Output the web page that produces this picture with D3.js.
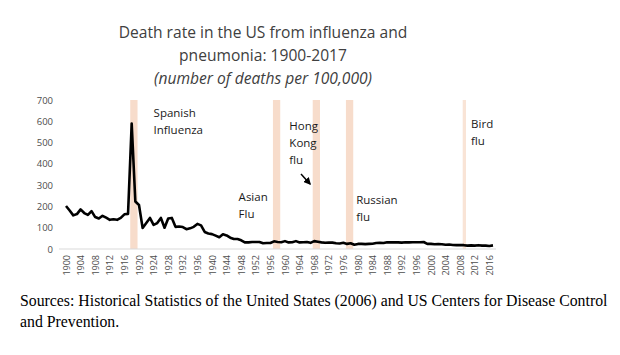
<!DOCTYPE html>
<html><head><meta charset="utf-8">
<script src="https://cdn.jsdelivr.net/npm/d3@7"></script>
<style>body{margin:0;background:#fff}svg{display:block}</style>
</head><body>
<svg id="c" width="620" height="355"></svg>
<script>
const years = d3.range(1900, 2018);
const rates = [202,181,158,164,186,169,160,178,150,143,
156,147,137,140,137,146,163,165,589,223,
207,99,122,146,113,122,146,100,143,146,
104,106,103,93,97,104,118,111,80,73,
70,63,55,69,64,53,47,47,41,31,
31,33,33,33,27,28,28,36,33,32,
37,31,32,37,31,32,33,29,37,34,
31,29,30,30,27,26,29,24,27,20,
24,24,23,24,25,28,29,28,32,31,
32,31,30,32,31,32,32,32,33,24,
24,22,23,22,20,21,19,18,19,18,
16,17,16,18,16,16,14,17];
const yTicks = [0,100,200,300,400,500,600,700];
const xTickYears = d3.range(1900, 2017, 4);
const bands = [
  {name:"Spanish", start:1917.6, end:1919.6},
  {name:"Asian", start:1956.7, end:1958.7},
  {name:"HongKong", start:1967.6, end:1969.6},
  {name:"Russian", start:1976.7, end:1978.7},
  {name:"Bird", start:2008.7, end:2009.6}
];
const labels = [
  {lines:["Spanish","Influenza"], year:1924.0, top:117},
  {lines:["Asian","Flu"], year:1947.3, top:201},
  {lines:["Hong","Kong","flu"], year:1961.2, top:130},
  {lines:["Russian","flu"], year:1979.5, top:204},
  {lines:["Bird","flu"], year:2011.0, top:128}
];
const titleLines = ["Death rate in the US from influenza and","pneumonia: 1900-2017"];
const subtitle = "(number of deaths per 100,000)";
const sources = ["Sources: Historical Statistics of the United States (2006) and US Centers for Disease Control","and Prevention."];

const svg = d3.select("#c");
const x = d3.scaleLinear().domain([1900, 2017]).range([66, 493]);
const y = d3.scaleLinear().domain([0, 700]).range([249, 100]);

// bands
svg.selectAll("rect.band").data(bands).join("rect")
  .attr("x", d => x(d.start)).attr("width", d => x(d.end) - x(d.start))
  .attr("y", y(700)).attr("height", y(0) - y(700))
  .attr("fill", d => d.name === "Bird" ? "#f9e4d6" : "#f7dccb");

// y axis
const yAxis = d3.axisLeft(y).tickValues(yTicks).tickSize(0).tickPadding(0);
const gy = svg.append("g").attr("transform", "translate(53,0)").call(yAxis);
gy.select(".domain").remove();
gy.selectAll("text").attr("fill", "#4d4d4d").style("font-family", "'Open Sans', sans-serif").style("font-size", "9.5px");

// x axis
const xAxis = d3.axisBottom(x).tickValues(xTickYears).tickFormat(d3.format("d")).tickSize(0).tickPadding(0);
const gx = svg.append("g").attr("transform", `translate(0,${y(0)})`).call(xAxis);
gx.select(".domain").attr("stroke", "#d9d9d9").attr("d", `M59,0H496`);
gx.selectAll("text").attr("fill", "#4d4d4d").style("font-family", "'Open Sans', sans-serif").style("font-size", "9px")
  .attr("transform", "rotate(-90)").attr("text-anchor", "end").attr("x", -6).attr("y", 0).attr("dy", "0.35em");

// line
const data = years.map((yr, i) => ({yr, v: rates[i]}));
svg.append("path").datum(data)
  .attr("d", d3.line().x(d => x(d.yr)).y(d => y(d.v)))
  .attr("fill", "none").attr("stroke", "#000").attr("stroke-width", 2.6).attr("stroke-linejoin", "round");

// annotations
labels.forEach(l => {
  const t = svg.append("text").attr("x", x(l.year)).attr("y", l.top)
    .style("font-family", "'Open Sans', sans-serif").style("font-size", "11.5px").attr("fill", "#1a1a1a");
  l.lines.forEach((s, i) => t.append("tspan").attr("x", x(l.year)).attr("y", l.top + i * 17).text(s));
});

// arrow
svg.append("defs").append("marker").attr("id", "ah").attr("viewBox", "0 0 10 10")
  .attr("refX", 8).attr("refY", 5).attr("markerWidth", 5).attr("markerHeight", 5).attr("orient", "auto")
  .append("path").attr("d", "M0,0L10,5L0,10z").attr("fill", "#000");
svg.append("line").attr("x1", 301).attr("y1", 174).attr("x2", 310).attr("y2", 184)
  .attr("stroke", "#000").attr("stroke-width", 1.5).attr("marker-end", "url(#ah)");

// title
const tt = svg.append("text").attr("text-anchor", "middle").attr("fill", "#404040")
  .style("font-family", "'Open Sans', sans-serif").style("font-size", "15.6px");
titleLines.forEach((s, i) => tt.append("tspan").attr("x", 263).attr("y", 38 + i * 23).text(s));
svg.append("text").attr("x", 263).attr("y", 84).attr("text-anchor", "middle").attr("fill", "#404040")
  .style("font-family", "'Open Sans', sans-serif").style("font-size", "15.6px").style("font-style", "italic").text(subtitle);

// sources
const st = svg.append("text").attr("fill", "#000")
  .style("font-family", "'Liberation Serif', 'Times New Roman', serif").style("font-size", "15.8px");
sources.forEach((s, i) => st.append("tspan").attr("x", 20).attr("y", 306 + i * 21).text(s));
</script>
</body></html>
